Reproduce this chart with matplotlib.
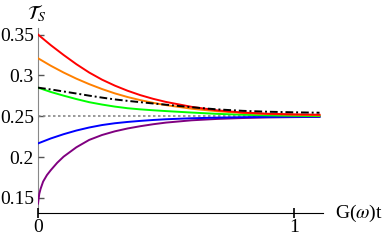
import matplotlib.pyplot as plt

plt.rcParams['font.family'] = 'Liberation Serif'
plt.rcParams['mathtext.fontset'] = 'stix'

# values
t = [0.0, 0.05, 0.1, 0.15, 0.2, 0.25, 0.3, 0.35, 0.4, 0.45, 0.5, 0.6, 0.7, 0.8, 0.9, 1.0, 1.1]
red = [0.350, 0.337, 0.3250, 0.3137, 0.3035, 0.2948, 0.2875, 0.2812, 0.2758, 0.2713, 0.2675,
       0.2615, 0.2572, 0.2545, 0.2530, 0.2523, 0.2518]
orange = [0.321, 0.3118, 0.3035, 0.2960, 0.2893, 0.2833, 0.2780, 0.2735, 0.2697, 0.2664, 0.2636,
          0.2592, 0.2561, 0.2540, 0.2527, 0.2518, 0.2512]
black = [0.285, 0.2828, 0.2803, 0.2778, 0.2752, 0.2728, 0.2706, 0.2688, 0.2672, 0.2656, 0.2641,
         0.2610, 0.2584, 0.2566, 0.2555, 0.2548, 0.2543]
green = [0.285, 0.2797, 0.2752, 0.2710, 0.2672, 0.2643, 0.2618, 0.2598, 0.2584, 0.2573, 0.2563,
         0.2545, 0.2529, 0.2518, 0.2510, 0.2505, 0.2502]
blue = [0.2167, 0.2228, 0.2280, 0.2325, 0.2362, 0.2392, 0.2414, 0.2430, 0.2443, 0.2454, 0.2463,
        0.2475, 0.2483, 0.2488, 0.2491, 0.2493, 0.2494]

t_p = [0.0, 0.005, 0.01, 0.02, 0.035, 0.05, 0.075, 0.1, 0.15, 0.2, 0.25, 0.3, 0.35, 0.4, 0.45,
       0.5, 0.6, 0.7, 0.8, 0.9, 1.0, 1.1]
purple = [0.143, 0.155, 0.161, 0.170, 0.178, 0.184, 0.193, 0.2005, 0.2120, 0.2210, 0.2270, 0.2315,
          0.2350, 0.2378, 0.2402, 0.2422, 0.2450, 0.2467, 0.2478, 0.2485, 0.2489, 0.2492]

ref_t = [0.0, 1.1]
ref = [0.25, 0.25]

fig = plt.figure(figsize=(3.82, 2.45), dpi=100)
ax = fig.add_axes([0.0995, 0.1306, 0.747, 0.755])

ax.plot(ref_t, ref, color='#888888', lw=1.2, ls=(0, (1.5, 1.5)))
ax.plot(t_p, purple, color=(0.5, 0, 0.5), lw=1.4)
ax.plot(t, blue, color=(0, 0, 1), lw=1.4)
ax.plot(t, green, color=(0, 1, 0), lw=1.4)
ax.plot(t, orange, color=(1, 0.5, 0), lw=1.4)
ax.plot(t, red, color=(1, 0, 0), lw=1.4)
ax.plot(t, black, color='black', lw=1.4, ls=(0, (4, 1.5, 1, 1.5)))

ax.set_xlim(0, 1.115)
ax.set_ylim(0.1315, 0.358)
ax.set_xticks([0, 1])
ax.set_xticklabels(['0', '1'])
ax.set_yticks([0.15, 0.2, 0.25, 0.3, 0.35])
ax.set_yticklabels(['0.15', '0.2', '0.25', '0.3', '0.35'])

for s in ['top', 'right']:
    ax.spines[s].set_visible(False)
ax.spines['left'].set_color('#888888')
ax.spines['bottom'].set_color('black')
ax.spines['left'].set_zorder(0)

ax.tick_params(axis='x', direction='inout', length=7, width=1.2, labelsize=14, pad=1)
ax.tick_params(axis='y', direction='in', length=4, width=1, color='#555555', labelsize=14, pad=3)

fig.text(335 / 382, 1 - 213 / 245, r'G($\omega$)t', fontsize=14, ha='left', va='center')
fig.text(27 / 382, 1 - 13 / 245, r'$\mathcal{T}_S$', fontsize=14, ha='left', va='center')

fig.savefig('out.png', dpi=100)
